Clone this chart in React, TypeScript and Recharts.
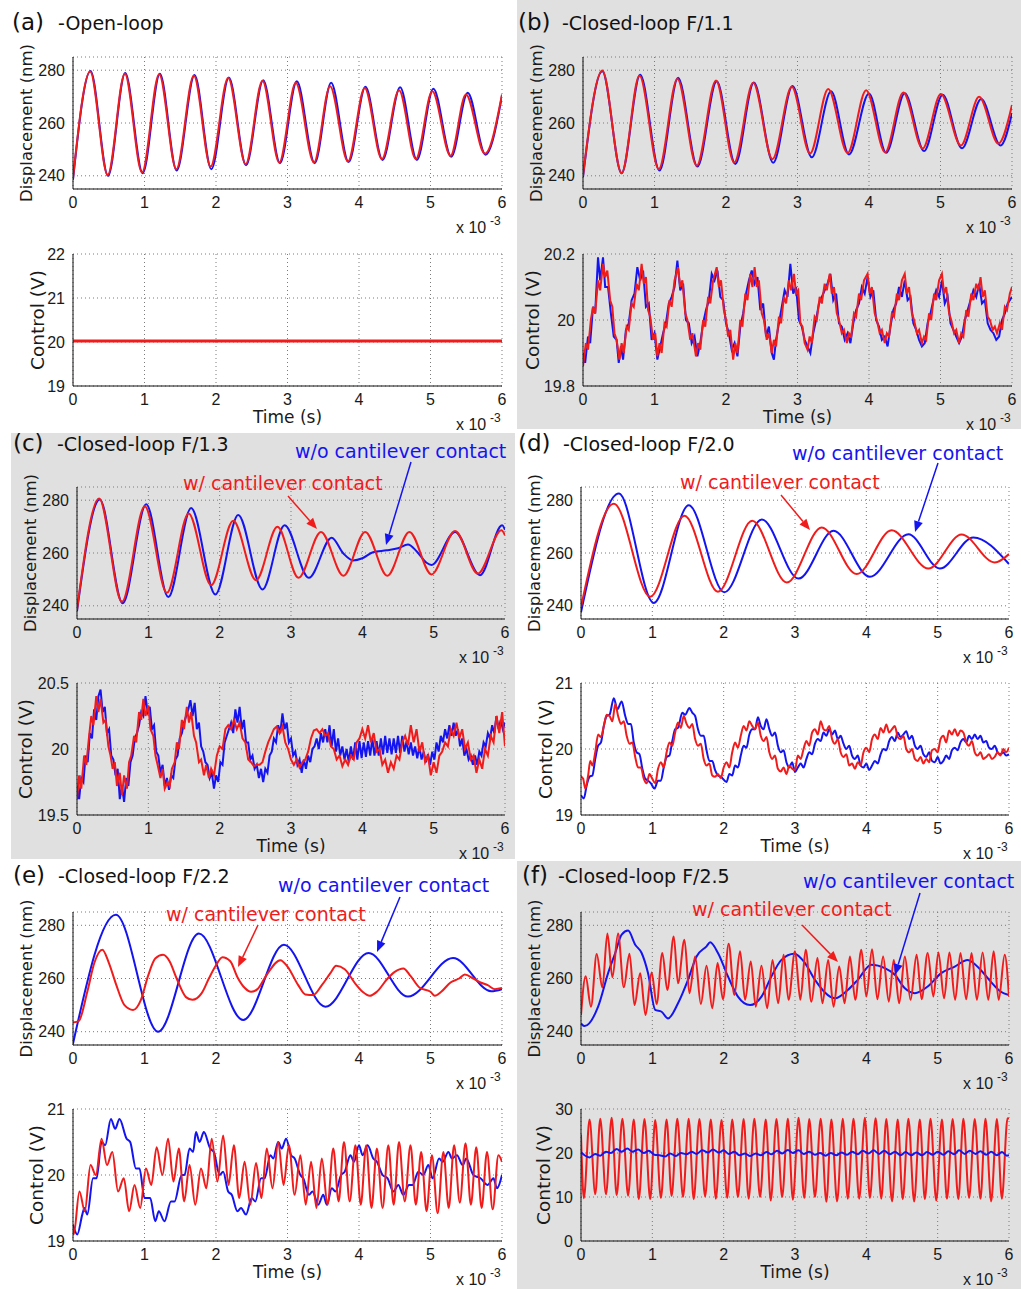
import React from 'react';
import { LineChart, Line, XAxis, YAxis, CartesianGrid } from 'recharts';

const FONT = "'DejaVu Sans', 'Liberation Sans', sans-serif";
const TICK_FONT = "'Liberation Sans', Arial, sans-serif";
const RED = '#f01c1c';
const BLUE = '#1414f0';
const GREY_BG = '#e0e0e0';

// ---------- data: [time (ms), value] ----------
const timeTicks = [0, 1, 2, 3, 4, 5, 6];
const dispTicks = [240, 260, 280];

const aDispBlue = [[0,238.5],[0.245,279.7],[0.49,240],[0.73,278.9],[0.975,241],[1.215,278.7],[1.45,242],[1.7,278.2],[1.935,242.5],[2.18,277.2],[2.42,244],[2.66,276.2],[2.895,244.8],[3.13,275.8],[3.38,244.8],[3.61,275.2],[3.855,245.2],[4.09,273.7],[4.33,246],[4.575,273.5],[4.81,246],[5.04,273],[5.29,247.2],[5.52,271.5],[5.77,248],[6,270.3]];
const aDispRed = [[0,239],[0.24,279.5],[0.485,240.3],[0.725,278.7],[0.965,241.3],[1.205,278.5],[1.445,242.5],[1.69,278],[1.925,243.5],[2.17,277.1],[2.415,244.4],[2.65,276],[2.885,245],[3.115,275.2],[3.37,245],[3.595,273.9],[3.845,245.4],[4.08,273.3],[4.32,246.3],[4.56,272.4],[4.795,246.3],[5.025,272],[5.28,247.6],[5.495,270.8],[5.76,248.4],[6,270.8]];
const aCtrlBlue = [[0,20.02],[6,20.02]];
const aCtrlRed = [[0,20.02],[6,20.02]];

const bDispBlue = [[0,239.5],[0.27,279.6],[0.54,241],[0.8,278.3],[1.07,242],[1.33,277.1],[1.6,243.5],[1.87,275.8],[2.13,244.5],[2.39,275.3],[2.66,244.9],[2.93,274],[3.2,247],[3.47,272],[3.72,248.1],[4.0,271.2],[4.24,248.7],[4.5,271.3],[4.77,249.4],[5.03,270.7],[5.3,250.4],[5.57,269.1],[5.84,251.5],[6,263.7]];
const bDispRed = [[0,240],[0.27,279.9],[0.54,241],[0.79,278],[1.06,242.5],[1.32,276.8],[1.59,243.8],[1.86,276.1],[2.115,245],[2.38,275.2],[2.65,246.3],[2.92,273.7],[3.175,248.4],[3.43,272.9],[3.7,248.6],[3.96,272.4],[4.225,248.9],[4.48,271.6],[4.75,250.3],[5.005,271],[5.285,251.5],[5.54,269.9],[5.81,252.2],[6,266.8]];
const bCtrlBlue = [[0,19.9],[0.03,19.87],[0.07,19.95],[0.1,19.93],[0.14,20.04],[0.17,20.02],[0.21,20.19],[0.24,20.12],[0.28,20.19],[0.31,20.1],[0.35,20.1],[0.39,20.02],[0.43,19.95],[0.47,19.94],[0.5,19.87],[0.53,19.92],[0.56,19.88],[0.6,19.97],[0.64,19.99],[0.68,20.06],[0.72,20.08],[0.76,20.16],[0.8,20.12],[0.84,20.15],[0.88,20.04],[0.92,20.05],[0.96,19.94],[1.0,19.96],[1.04,19.88],[1.08,19.92],[1.12,19.96],[1.16,19.99],[1.2,20.05],[1.24,20.07],[1.28,20.1],[1.32,20.18],[1.36,20.09],[1.4,20.11],[1.44,20.0],[1.48,19.99],[1.52,19.93],[1.56,19.95],[1.6,19.89],[1.64,19.93],[1.68,19.99],[1.72,20.03],[1.76,20.06],[1.8,20.14],[1.84,20.12],[1.88,20.15],[1.92,20.07],[1.96,20.06],[2.0,19.99],[2.04,19.96],[2.08,19.91],[2.12,19.93],[2.16,19.89],[2.2,19.98],[2.24,20.02],[2.28,20.08],[2.32,20.12],[2.36,20.15],[2.4,20.11],[2.44,20.13],[2.48,20.03],[2.52,20.05],[2.56,19.95],[2.6,19.98],[2.64,19.9],[2.67,19.88],[2.7,19.94],[2.74,19.99],[2.78,20.04],[2.82,20.09],[2.86,20.07],[2.9,20.17],[2.94,20.08],[2.98,20.1],[3.02,20.0],[3.06,19.98],[3.1,19.94],[3.14,19.92],[3.18,19.9],[3.22,19.96],[3.26,20.0],[3.3,20.05],[3.34,20.07],[3.38,20.09],[3.42,20.11],[3.46,20.14],[3.5,20.06],[3.54,20.08],[3.58,19.99],[3.62,19.98],[3.66,19.94],[3.7,19.96],[3.74,19.93],[3.78,19.99],[3.82,20.03],[3.86,20.05],[3.9,20.1],[3.94,20.08],[3.98,20.13],[4.02,20.07],[4.06,20.09],[4.1,20.0],[4.14,19.98],[4.18,19.94],[4.22,19.95],[4.26,19.92],[4.3,19.98],[4.34,20.03],[4.38,20.05],[4.42,20.1],[4.46,20.07],[4.5,20.12],[4.54,20.06],[4.58,20.07],[4.62,19.99],[4.66,19.97],[4.7,19.94],[4.74,19.92],[4.78,19.93],[4.82,19.99],[4.86,20.02],[4.9,20.06],[4.94,20.09],[4.98,20.07],[5.02,20.12],[5.06,20.05],[5.1,20.07],[5.14,19.99],[5.18,19.97],[5.22,19.95],[5.26,19.93],[5.3,19.95],[5.34,20.0],[5.38,20.03],[5.42,20.06],[5.46,20.09],[5.5,20.07],[5.54,20.11],[5.58,20.05],[5.62,20.06],[5.66,19.99],[5.7,19.97],[5.74,19.96],[5.78,19.94],[5.82,19.95],[5.86,20.0],[5.9,20.02],[5.94,20.05],[6,20.07]];
const bCtrlRed = [[0,19.86],[0.04,19.93],[0.07,19.91],[0.11,20.0],[0.14,20.04],[0.17,20.02],[0.21,20.12],[0.24,20.09],[0.28,20.17],[0.31,20.13],[0.34,20.15],[0.38,20.06],[0.41,20.04],[0.44,19.96],[0.47,19.94],[0.51,19.88],[0.54,19.93],[0.57,19.9],[0.61,19.98],[0.64,19.97],[0.68,20.05],[0.71,20.04],[0.75,20.11],[0.78,20.09],[0.82,20.17],[0.85,20.11],[0.88,20.13],[0.91,20.03],[0.94,20.01],[0.98,19.94],[1.01,19.96],[1.04,19.89],[1.07,19.93],[1.1,19.9],[1.14,19.99],[1.17,19.98],[1.21,20.06],[1.24,20.04],[1.28,20.12],[1.33,20.16],[1.36,20.1],[1.39,20.12],[1.43,20.02],[1.46,20.0],[1.5,19.94],[1.53,19.96],[1.58,19.89],[1.61,19.93],[1.64,19.91],[1.68,20.0],[1.71,19.98],[1.75,20.07],[1.78,20.05],[1.82,20.12],[1.87,20.16],[1.9,20.1],[1.93,20.12],[1.97,20.03],[2.0,20.0],[2.03,19.95],[2.06,19.97],[2.1,19.88],[2.13,19.93],[2.16,19.9],[2.2,20.0],[2.23,19.98],[2.27,20.08],[2.3,20.06],[2.34,20.14],[2.37,20.1],[2.4,20.16],[2.43,20.1],[2.46,20.12],[2.5,20.02],[2.53,20.0],[2.57,19.94],[2.6,19.96],[2.64,19.9],[2.67,19.94],[2.7,19.92],[2.74,20.01],[2.77,19.99],[2.81,20.07],[2.84,20.05],[2.88,20.12],[2.91,20.09],[2.95,20.14],[2.98,20.08],[3.01,20.09],[3.04,19.99],[3.07,19.98],[3.1,19.93],[3.14,19.91],[3.17,19.95],[3.2,19.93],[3.24,20.01],[3.27,20.0],[3.31,20.07],[3.34,20.05],[3.38,20.11],[3.41,20.09],[3.45,20.14],[3.48,20.08],[3.51,20.1],[3.55,20.02],[3.58,20.0],[3.62,19.96],[3.65,19.97],[3.69,19.93],[3.72,19.96],[3.75,19.95],[3.79,20.02],[3.82,20.01],[3.86,20.08],[3.89,20.06],[3.93,20.12],[3.98,20.14],[4.01,20.08],[4.04,20.1],[4.08,20.02],[4.11,20.0],[4.15,19.96],[4.18,19.97],[4.22,19.93],[4.25,19.96],[4.28,19.95],[4.32,20.02],[4.35,20.01],[4.39,20.08],[4.42,20.06],[4.46,20.12],[4.5,20.14],[4.53,20.08],[4.56,20.1],[4.6,20.02],[4.63,20.0],[4.67,19.96],[4.7,19.97],[4.74,19.93],[4.77,19.95],[4.8,19.94],[4.84,20.02],[4.87,20.0],[4.91,20.08],[4.94,20.06],[4.98,20.12],[5.02,20.14],[5.05,20.08],[5.08,20.1],[5.12,20.02],[5.15,20.0],[5.19,19.96],[5.22,19.97],[5.26,19.93],[5.29,19.96],[5.32,19.95],[5.36,20.03],[5.39,20.01],[5.43,20.08],[5.46,20.06],[5.5,20.11],[5.53,20.09],[5.56,20.13],[5.59,20.07],[5.62,20.09],[5.66,20.01],[5.69,20.0],[5.73,19.97],[5.76,19.98],[5.79,19.96],[5.83,19.99],[5.86,19.97],[5.9,20.04],[5.93,20.03],[5.97,20.08],[6,20.1]];

const cDispBlue = [[0,238],[0.32,280.3],[0.64,241],[0.97,278.5],[1.28,243.3],[1.6,277],[1.94,244.3],[2.26,274.4],[2.6,246.2],[2.91,270.5],[3.25,250.6],[3.57,265.8],[3.735,259.8],[3.87,257.2],[4.0,258],[4.15,260.3],[4.34,261],[4.5,261.8],[4.64,263.2],[4.76,260.7],[4.9,256.3],[4.97,255.5],[5.3,268],[5.65,251.6],[5.96,270.5],[6,268.8]];
const cDispRed = [[0,238.5],[0.31,280.6],[0.63,241.5],[0.95,277.7],[1.26,244.9],[1.565,275],[1.88,247.8],[2.19,272.2],[2.51,249.7],[2.81,269.9],[3.105,250.6],[3.42,268],[3.735,251.4],[4.04,268],[4.35,251.4],[4.66,268],[4.97,251.9],[5.3,268.3],[5.62,252.2],[5.95,268.6],[6,266.7]];
const cCtrlBlue = [[0,19.72],[0.03,19.62],[0.06,19.78],[0.09,19.75],[0.12,19.95],[0.15,19.9],[0.18,20.12],[0.21,20.08],[0.24,20.3],[0.27,20.22],[0.3,20.4],[0.33,20.45],[0.36,20.28],[0.39,20.32],[0.42,20.12],[0.45,20.15],[0.48,19.95],[0.51,19.92],[0.54,19.8],[0.57,19.85],[0.6,19.62],[0.63,19.72],[0.66,19.6],[0.69,19.78],[0.72,19.72],[0.75,19.9],[0.78,19.95],[0.81,20.08],[0.84,20.12],[0.87,20.18],[0.9,20.28],[0.93,20.25],[0.96,20.4],[0.99,20.28],[1.02,20.32],[1.05,20.15],[1.08,20.18],[1.11,19.98],[1.14,19.95],[1.17,19.82],[1.2,19.88],[1.23,19.72],[1.26,19.78],[1.29,19.69],[1.32,19.8],[1.35,19.78],[1.38,19.92],[1.41,19.95],[1.44,20.08],[1.47,20.12],[1.5,20.2],[1.53,20.25],[1.56,20.3],[1.59,20.37],[1.62,20.25],[1.65,20.35],[1.68,20.15],[1.71,20.2],[1.74,20.02],[1.77,19.98],[1.8,19.9],[1.83,19.88],[1.86,19.78],[1.89,19.82],[1.92,19.7],[1.95,19.8],[1.98,19.75],[2.01,19.9],[2.04,19.88],[2.07,20.05],[2.1,20.1],[2.13,20.15],[2.16,20.2],[2.19,20.12],[2.22,20.3],[2.25,20.2],[2.28,20.32],[2.31,20.15],[2.34,20.22],[2.37,20.05],[2.4,20.05],[2.43,19.92],[2.46,19.95],[2.49,19.85],[2.52,19.88],[2.55,19.78],[2.58,19.85],[2.61,19.75],[2.64,19.85],[2.67,19.82],[2.7,19.95],[2.73,19.98],[2.76,20.08],[2.79,20.05],[2.82,20.18],[2.85,20.12],[2.88,20.27],[2.91,20.15],[2.94,20.2],[2.97,20.05],[3.0,20.08],[3.03,19.95],[3.06,19.98],[3.09,19.88],[3.12,19.92],[3.15,19.82],[3.18,19.92],[3.21,19.85],[3.24,19.95],[3.27,19.9],[3.3,20.0],[3.33,20.02],[3.36,20.08],[3.39,20.0],[3.42,20.12],[3.45,20.05],[3.48,20.15],[3.51,20.05],[3.54,20.18],[3.57,20.02],[3.6,20.15],[3.63,19.98],[3.66,20.08],[3.69,19.95],[3.72,20.02],[3.75,19.92],[3.78,20.0],[3.81,19.9],[3.84,20.02],[3.87,19.92],[3.9,20.05],[3.93,19.92],[3.96,20.06],[3.99,19.93],[4.02,20.05],[4.05,19.94],[4.08,20.06],[4.11,19.95],[4.14,20.08],[4.17,19.95],[4.2,20.06],[4.23,19.95],[4.26,20.08],[4.29,19.96],[4.32,20.1],[4.35,19.97],[4.38,20.08],[4.41,19.96],[4.44,20.08],[4.47,19.97],[4.5,20.1],[4.53,19.97],[4.56,20.1],[4.59,19.98],[4.62,20.06],[4.65,19.96],[4.68,20.05],[4.71,19.95],[4.74,20.02],[4.77,19.93],[4.8,20.02],[4.83,19.92],[4.86,19.98],[4.89,19.9],[4.92,19.96],[4.95,19.88],[4.98,19.98],[5.01,19.92],[5.04,20.05],[5.07,19.98],[5.1,20.1],[5.13,20.05],[5.16,20.15],[5.19,20.08],[5.22,20.18],[5.25,20.1],[5.28,20.2],[5.31,20.1],[5.34,20.15],[5.37,20.02],[5.4,20.08],[5.43,19.95],[5.46,20.0],[5.49,19.92],[5.52,19.95],[5.55,19.88],[5.58,19.95],[5.61,19.88],[5.64,19.98],[5.67,19.95],[5.7,20.05],[5.73,20.02],[5.76,20.12],[5.79,20.08],[5.82,20.18],[5.85,20.12],[5.88,20.25],[5.91,20.15],[5.94,20.22],[5.97,20.15],[6,20.2]];
const cCtrlRed = [[0,19.62],[0.03,19.8],[0.06,19.7],[0.1,19.95],[0.13,19.88],[0.17,20.1],[0.2,20.25],[0.23,20.18],[0.27,20.4],[0.3,20.28],[0.33,20.38],[0.37,20.2],[0.4,20.22],[0.44,20.02],[0.47,19.95],[0.5,19.85],[0.53,19.9],[0.56,19.72],[0.6,19.82],[0.63,19.65],[0.66,19.8],[0.7,19.7],[0.73,19.9],[0.76,19.95],[0.8,20.1],[0.83,20.05],[0.87,20.28],[0.9,20.22],[0.93,20.38],[0.96,20.25],[1.0,20.33],[1.03,20.15],[1.07,20.1],[1.1,19.95],[1.13,19.88],[1.17,19.78],[1.2,19.85],[1.23,19.7],[1.27,19.75],[1.3,19.72],[1.33,19.85],[1.37,19.9],[1.4,20.05],[1.43,20.0],[1.47,20.22],[1.5,20.15],[1.54,20.32],[1.57,20.2],[1.6,20.28],[1.64,20.1],[1.67,20.05],[1.71,19.9],[1.74,19.92],[1.78,19.8],[1.81,19.88],[1.85,19.78],[1.88,19.85],[1.92,19.8],[1.96,19.95],[2.0,20.02],[2.04,20.0],[2.08,20.15],[2.12,20.18],[2.16,20.15],[2.2,20.22],[2.24,20.15],[2.28,20.2],[2.32,20.08],[2.36,20.05],[2.4,19.92],[2.44,19.9],[2.48,19.87],[2.52,19.88],[2.56,19.88],[2.6,19.9],[2.64,19.98],[2.68,20.05],[2.72,20.1],[2.76,20.15],[2.8,20.17],[2.84,20.12],[2.88,20.17],[2.92,20.05],[2.96,20.0],[3.0,19.92],[3.04,19.88],[3.08,19.92],[3.12,19.86],[3.16,19.9],[3.2,19.92],[3.24,19.98],[3.28,20.08],[3.32,20.14],[3.36,20.15],[3.4,20.12],[3.44,20.15],[3.48,20.1],[3.52,20.12],[3.56,20.02],[3.6,20.0],[3.64,19.92],[3.68,19.95],[3.72,19.87],[3.76,19.92],[3.8,19.88],[3.84,19.95],[3.88,19.92],[3.92,20.05],[3.96,20.08],[4.0,20.15],[4.04,20.08],[4.08,20.18],[4.12,20.05],[4.16,20.12],[4.2,19.98],[4.24,20.0],[4.28,19.88],[4.32,19.92],[4.36,19.82],[4.4,19.9],[4.44,19.85],[4.48,19.95],[4.52,19.92],[4.56,20.05],[4.6,20.1],[4.64,20.03],[4.68,20.18],[4.72,20.05],[4.76,20.15],[4.8,19.98],[4.84,20.05],[4.88,19.9],[4.92,19.95],[4.96,19.8],[5.0,19.9],[5.04,19.82],[5.08,19.95],[5.12,19.98],[5.16,20.05],[5.2,20.02],[5.24,20.15],[5.28,20.1],[5.32,20.2],[5.36,20.08],[5.4,20.15],[5.44,20.0],[5.48,20.05],[5.52,19.92],[5.56,19.95],[5.6,19.82],[5.64,19.92],[5.68,19.85],[5.72,20.0],[5.76,19.95],[5.8,20.1],[5.84,20.05],[5.88,20.25],[5.92,20.12],[5.96,20.28],[6,20.02]];

const dDispBlue = [[0,237.5],[0.53,282.5],[1.02,241.1],[1.51,278.1],[2.01,245.1],[2.535,272.7],[3.05,250.3],[3.54,268.4],[4.05,251],[4.59,267.1],[5.03,254.1],[5.5,265.9],[6,255.8]];
const dDispRed = [[0,239.5],[0.46,278.7],[0.97,243.4],[1.45,274.1],[1.92,245.3],[2.4,272.2],[2.885,248.8],[3.375,269.7],[3.865,252],[4.355,268.6],[4.87,254.1],[5.335,267],[5.8,256.4],[6,259.6]];
const dCtrlBlue = [[0,19.3],[0.04,19.25],[0.08,19.45],[0.12,19.58],[0.16,19.6],[0.2,19.85],[0.24,20.05],[0.28,20.1],[0.32,20.35],[0.36,20.5],[0.4,20.52],[0.46,20.77],[0.51,20.6],[0.57,20.72],[0.62,20.5],[0.66,20.38],[0.7,20.38],[0.74,20.1],[0.78,19.95],[0.82,19.92],[0.86,19.7],[0.9,19.55],[0.94,19.52],[0.98,19.48],[1.03,19.4],[1.08,19.52],[1.12,19.52],[1.16,19.72],[1.2,19.88],[1.24,19.9],[1.28,20.12],[1.32,20.3],[1.36,20.32],[1.42,20.55],[1.46,20.52],[1.52,20.62],[1.56,20.55],[1.6,20.5],[1.64,20.3],[1.68,20.2],[1.72,20.2],[1.76,19.98],[1.8,19.82],[1.84,19.82],[1.88,19.68],[1.92,19.6],[1.96,19.58],[2.04,19.5],[2.08,19.62],[2.12,19.6],[2.16,19.75],[2.2,19.72],[2.24,19.9],[2.28,20.05],[2.32,20.02],[2.36,20.22],[2.4,20.3],[2.44,20.3],[2.48,20.48],[2.52,20.35],[2.56,20.3],[2.6,20.45],[2.64,20.3],[2.68,20.2],[2.72,20.25],[2.76,20.05],[2.8,19.95],[2.84,19.98],[2.88,19.8],[2.92,19.72],[2.96,19.8],[3.0,19.65],[3.04,19.72],[3.08,19.78],[3.12,19.72],[3.16,19.85],[3.2,19.95],[3.24,19.92],[3.28,20.08],[3.32,20.15],[3.36,20.12],[3.4,20.25],[3.44,20.2],[3.48,20.3],[3.52,20.22],[3.56,20.28],[3.6,20.15],[3.64,20.2],[3.68,20.08],[3.72,20.0],[3.76,20.05],[3.8,19.9],[3.84,19.85],[3.88,19.9],[3.92,19.75],[3.96,19.72],[4.0,19.78],[4.04,19.68],[4.08,19.75],[4.12,19.82],[4.16,19.78],[4.2,19.92],[4.24,20.0],[4.28,19.98],[4.32,20.12],[4.36,20.18],[4.4,20.12],[4.44,20.25],[4.48,20.18],[4.52,20.22],[4.56,20.27],[4.6,20.15],[4.64,20.2],[4.68,20.05],[4.72,20.0],[4.76,20.05],[4.8,19.92],[4.84,19.88],[4.88,19.95],[4.92,19.82],[4.96,19.8],[5.0,19.88],[5.04,19.78],[5.08,19.82],[5.12,19.9],[5.16,19.85],[5.2,19.98],[5.24,20.02],[5.28,19.98],[5.32,20.1],[5.36,20.15],[5.4,20.1],[5.44,20.2],[5.48,20.15],[5.52,20.22],[5.56,20.15],[5.6,20.2],[5.64,20.1],[5.68,20.12],[5.72,20.02],[5.76,20.0],[5.8,20.05],[5.84,19.95],[5.88,19.92],[5.92,19.95],[5.96,19.9],[6,19.92]];
const dCtrlRed = [[0,19.58],[0.03,19.55],[0.06,19.4],[0.1,19.6],[0.13,19.82],[0.16,19.75],[0.2,19.95],[0.24,20.22],[0.28,20.18],[0.32,20.35],[0.36,20.52],[0.4,20.5],[0.44,20.42],[0.48,20.68],[0.52,20.5],[0.56,20.38],[0.6,20.42],[0.64,20.2],[0.68,20.08],[0.72,20.1],[0.76,19.88],[0.8,19.72],[0.84,19.72],[0.88,19.55],[0.92,19.48],[0.96,19.62],[1.0,19.55],[1.04,19.48],[1.08,19.7],[1.12,19.8],[1.16,19.72],[1.2,19.95],[1.24,20.1],[1.28,20.05],[1.32,20.25],[1.36,20.4],[1.4,20.32],[1.44,20.5],[1.48,20.38],[1.52,20.32],[1.56,20.38],[1.6,20.15],[1.64,20.05],[1.68,20.08],[1.72,19.85],[1.76,19.75],[1.8,19.78],[1.84,19.6],[1.88,19.58],[1.92,19.62],[1.96,19.56],[2.0,19.72],[2.04,19.8],[2.08,19.72],[2.12,19.95],[2.16,20.1],[2.2,20.02],[2.24,20.2],[2.28,20.35],[2.32,20.28],[2.36,20.42],[2.4,20.35],[2.44,20.3],[2.48,20.4],[2.52,20.2],[2.56,20.12],[2.6,20.18],[2.64,19.95],[2.68,19.85],[2.72,19.9],[2.76,19.7],[2.8,19.66],[2.84,19.72],[2.88,19.62],[2.92,19.75],[2.96,19.7],[3.0,19.68],[3.04,19.9],[3.08,19.85],[3.12,20.0],[3.16,20.12],[3.2,20.05],[3.24,20.25],[3.28,20.3],[3.32,20.22],[3.36,20.42],[3.4,20.3],[3.44,20.28],[3.48,20.35],[3.52,20.15],[3.56,20.08],[3.6,20.15],[3.64,19.95],[3.68,19.88],[3.72,19.92],[3.76,19.75],[3.8,19.78],[3.84,19.7],[3.88,19.8],[3.92,19.75],[3.96,19.95],[4.0,20.02],[4.04,19.95],[4.08,20.15],[4.12,20.22],[4.16,20.15],[4.2,20.32],[4.24,20.25],[4.28,20.37],[4.32,20.25],[4.36,20.3],[4.4,20.35],[4.44,20.18],[4.48,20.15],[4.52,20.2],[4.56,20.0],[4.6,19.95],[4.64,20.0],[4.68,19.85],[4.72,19.82],[4.76,19.88],[4.8,19.78],[4.84,19.85],[4.88,19.8],[4.92,19.98],[4.96,20.0],[5.0,19.95],[5.04,20.15],[5.08,20.2],[5.12,20.1],[5.16,20.28],[5.2,20.22],[5.24,20.3],[5.28,20.2],[5.32,20.28],[5.36,20.25],[5.4,20.1],[5.44,20.05],[5.48,20.12],[5.52,19.95],[5.56,19.9],[5.6,19.95],[5.64,19.85],[5.68,19.88],[5.72,19.92],[5.76,19.85],[5.8,19.88],[5.84,19.95],[5.88,19.9],[5.92,20.0],[5.96,19.95],[6,20.02]];

const eDispBlue = [[0,235.5],[0.6,284],[1.19,240],[1.76,276.9],[2.38,244.4],[2.95,272.7],[3.53,249.4],[4.135,269.6],[4.685,253.2],[5.315,267.7],[5.85,255.2],[6,256]];
const eDispRed = [[0,243.5],[0.08,244],[0.2,255],[0.3,266],[0.41,270.8],[0.5,266],[0.6,258],[0.72,250],[0.84,248.2],[0.95,252],[1.05,261],[1.15,267.5],[1.26,268.9],[1.35,266.5],[1.45,260],[1.58,253],[1.67,252],[1.8,254.5],[1.9,260],[2.0,265],[2.09,268],[2.2,266.5],[2.3,260.5],[2.4,256.5],[2.49,255],[2.58,256],[2.7,261],[2.9,266.9],[3.0,264.5],[3.15,257.5],[3.25,254],[3.36,253.8],[3.48,257.5],[3.6,262],[3.68,264.8],[3.8,263.5],[3.95,258],[4.05,255],[4.15,253.5],[4.25,255],[4.4,260],[4.5,262.5],[4.62,263.8],[4.72,261],[4.85,256.5],[5.0,255],[5.06,253.5],[5.15,255],[5.28,258.5],[5.4,260],[5.48,261.5],[5.6,260],[5.7,258.5],[5.8,257.5],[5.9,256],[6,256.4]];
const eCtrlBlue = [[0,19.25],[0.06,19.1],[0.13,19.4],[0.16,19.5],[0.2,19.4],[0.28,19.95],[0.33,19.95],[0.4,20.5],[0.45,20.45],[0.53,20.85],[0.59,20.7],[0.65,20.85],[0.75,20.55],[0.8,20.5],[0.88,20.1],[0.93,20.1],[1.0,19.65],[1.08,19.65],[1.15,19.3],[1.2,19.45],[1.28,19.3],[1.37,19.6],[1.42,19.6],[1.52,20.0],[1.56,20.0],[1.63,20.4],[1.68,20.35],[1.72,20.65],[1.77,20.5],[1.83,20.65],[1.92,20.4],[1.97,20.35],[2.05,20.0],[2.1,20.05],[2.17,19.75],[2.22,19.7],[2.3,19.45],[2.35,19.5],[2.42,19.4],[2.5,19.65],[2.55,19.6],[2.63,19.95],[2.68,19.95],[2.76,20.3],[2.8,20.25],[2.87,20.5],[2.92,20.4],[2.98,20.55],[3.05,20.3],[3.1,20.25],[3.18,20.0],[3.22,19.95],[3.3,19.7],[3.35,19.75],[3.43,19.55],[3.5,19.7],[3.55,19.55],[3.62,19.8],[3.67,19.75],[3.75,20.0],[3.8,20.05],[3.88,20.3],[3.93,20.2],[4.0,20.45],[4.05,20.3],[4.12,20.45],[4.2,20.25],[4.25,20.2],[4.33,20.0],[4.4,19.95],[4.48,19.75],[4.55,19.85],[4.62,19.7],[4.7,19.85],[4.75,19.85],[4.83,20.05],[4.9,20.0],[4.97,20.15],[5.03,19.95],[5.12,20.25],[5.17,20.2],[5.25,20.35],[5.3,20.25],[5.37,20.3],[5.45,20.15],[5.5,20.25],[5.6,20.0],[5.7,19.95],[5.8,19.85],[5.88,19.95],[5.93,19.8],[6,20.0]];
const eCtrlRed = [[0,19.2],[0.01,19.1],[0.09,19.75],[0.165,19.45],[0.245,20.15],[0.32,20.0],[0.4,20.55],[0.475,20.15],[0.55,20.35],[0.63,19.75],[0.71,19.95],[0.785,19.45],[0.86,19.85],[0.94,19.5],[1.02,20.1],[1.095,19.85],[1.17,20.42],[1.25,20.0],[1.33,20.55],[1.405,19.9],[1.48,20.4],[1.555,19.6],[1.63,20.15],[1.71,19.55],[1.79,20.1],[1.865,19.8],[1.94,20.55],[2.02,19.9],[2.1,20.6],[2.175,19.85],[2.25,20.45],[2.325,19.65],[2.4,20.2],[2.48,19.55],[2.56,20.18],[2.635,19.65],[2.71,20.4],[2.79,19.8],[2.87,20.5],[2.945,19.85],[3.02,20.45],[3.1,19.7],[3.18,20.3],[3.255,19.55],[3.33,20.2],[3.405,19.5],[3.48,20.25],[3.56,19.55],[3.64,20.4],[3.715,19.6],[3.79,20.5],[3.87,19.6],[3.95,20.45],[4.025,19.55],[4.1,20.45],[4.175,19.5],[4.25,20.4],[4.33,19.5],[4.41,20.45],[4.485,19.55],[4.56,20.5],[4.64,19.6],[4.72,20.45],[4.795,19.55],[4.87,20.35],[4.945,19.45],[5.02,20.3],[5.1,19.42],[5.18,20.35],[5.255,19.5],[5.33,20.45],[5.41,19.58],[5.49,20.48],[5.565,19.55],[5.64,20.42],[5.715,19.5],[5.79,20.35],[5.87,19.48],[5.95,20.3],[6,20.2]];

const fDispBlue = [[0,243.1],[0.05,242.1],[0.24,249.4],[0.38,262],[0.48,269.6],[0.57,276.5],[0.66,278],[0.76,272.7],[0.85,269.6],[0.94,262],[1.04,248.2],[1.13,247.5],[1.22,245],[1.36,250.7],[1.5,259.5],[1.62,268.3],[1.76,272.1],[1.81,273.6],[1.92,269.6],[2.06,260.8],[2.2,253.2],[2.37,250],[2.53,253.2],[2.67,260.8],[2.81,267],[2.99,269.3],[3.14,265.8],[3.28,259.5],[3.56,252.6],[3.74,255.7],[3.88,259.5],[4.07,265.2],[4.26,263.9],[4.4,261.4],[4.54,256.3],[4.68,254.5],[4.86,257],[5.05,262],[5.24,264.5],[5.42,267],[5.6,263.3],[5.74,258.9],[5.88,255.1],[6,253.8]];
const fDispRed = [[0,246.3],[0.065,260.8],[0.14,249.4],[0.22,269.2],[0.3,256.6],[0.37,276.9],[0.44,260.5],[0.52,276.9],[0.6,256.7],[0.68,269.3],[0.75,250],[0.83,262],[0.905,246.3],[0.99,262.3],[1.06,250.4],[1.14,269.6],[1.21,255.7],[1.3,275.8],[1.36,258.2],[1.45,274.6],[1.52,254.5],[1.6,268.3],[1.68,250.4],[1.76,264.8],[1.84,248.8],[1.915,265.8],[1.99,252.2],[2.07,273.1],[2.15,253.8],[2.23,270.2],[2.3,252],[2.38,266.4],[2.45,249.4],[2.53,264.8],[2.61,248.8],[2.685,267],[2.765,250.7],[2.84,268.9],[2.91,252],[3.0,270.2],[3.075,252],[3.15,270.8],[3.23,251.3],[3.315,267.7],[3.385,250.7],[3.465,267],[3.54,249.4],[3.62,264.5],[3.695,250.7],[3.77,268.3],[3.845,252],[3.93,270.8],[4.0,253.2],[4.08,271],[4.155,252.2],[4.235,268.3],[4.315,251.3],[4.385,267],[4.46,250.7],[4.54,268.3],[4.62,252],[4.705,268.9],[4.775,252.2],[4.86,269.6],[4.94,253.2],[5.01,269.8],[5.09,252.6],[5.165,269.8],[5.245,252],[5.32,269.6],[5.4,252.2],[5.475,269.6],[5.55,252],[5.63,269.8],[5.71,252],[5.785,270.2],[5.855,252],[5.94,268.9],[6,253.2]];
const fCtrlBlue = [[0,20.2],[0.05,19.5],[0.12,19.0],[0.2,19.8],[0.27,19.4],[0.35,20.3],[0.42,20.0],[0.5,20.9],[0.57,20.3],[0.65,21.0],[0.72,20.3],[0.8,20.8],[0.88,20.0],[0.95,20.5],[1.03,19.6],[1.1,19.5],[1.18,19.2],[1.25,19.9],[1.33,19.3],[1.4,20.0],[1.48,19.7],[1.55,20.3],[1.62,19.8],[1.7,20.6],[1.78,20.1],[1.85,20.8],[1.93,20.1],[2.0,20.6],[2.07,19.8],[2.15,20.3],[2.22,19.5],[2.3,19.9],[2.37,19.3],[2.45,19.9],[2.52,19.5],[2.6,20.2],[2.67,19.7],[2.75,20.5],[2.82,19.9],[2.9,20.7],[2.97,20.0],[3.05,20.6],[3.12,19.8],[3.2,20.3],[3.28,19.6],[3.35,20.0],[3.43,19.4],[3.5,20.0],[3.58,19.5],[3.65,20.1],[3.73,19.6],[3.8,20.3],[3.88,19.7],[3.95,20.5],[4.03,19.9],[4.1,20.6],[4.18,19.8],[4.25,20.5],[4.33,19.7],[4.4,20.3],[4.48,19.5],[4.55,20.2],[4.63,19.5],[4.7,20.1],[4.78,19.5],[4.85,20.2],[4.93,19.6],[5.0,20.3],[5.08,19.6],[5.15,20.4],[5.23,19.7],[5.3,20.6],[5.38,19.8],[5.45,20.5],[5.53,19.8],[5.6,20.4],[5.68,19.6],[5.75,20.3],[5.83,19.5],[5.9,20.2],[5.97,19.4],[6,19.5]];
const fCtrlRed = [[0,24.2],[0.04,9.7],[0.12,27.6],[0.2,10.6],[0.27,27.8],[0.35,10.6],[0.43,28],[0.5,10.4],[0.58,27.8],[0.66,10.3],[0.74,27.6],[0.81,9.5],[0.89,27.7],[0.97,9.5],[1.04,27.5],[1.12,9.8],[1.2,27.6],[1.27,10.2],[1.35,27.8],[1.43,10.0],[1.51,27.8],[1.58,9.5],[1.66,27.7],[1.74,10.1],[1.82,27.6],[1.89,9.6],[1.97,27.5],[2.05,9.8],[2.12,27.6],[2.2,10.0],[2.28,27.7],[2.35,9.6],[2.43,27.8],[2.51,10.0],[2.59,27.6],[2.66,9.2],[2.74,27.7],[2.82,10.0],[2.9,27.8],[2.97,9.4],[3.05,28],[3.13,9.8],[3.2,27.7],[3.28,10.0],[3.36,27.8],[3.44,8.9],[3.51,27.6],[3.59,9.0],[3.67,27.8],[3.74,9.6],[3.82,27.8],[3.9,9.6],[3.98,28],[4.05,9.8],[4.13,27.9],[4.21,9.6],[4.28,27.7],[4.36,9.0],[4.44,27.6],[4.51,9.5],[4.59,27.8],[4.67,9.0],[4.75,27.6],[4.82,9.5],[4.9,27.8],[4.98,9.2],[5.06,27.6],[5.13,9.6],[5.21,27.7],[5.29,9.5],[5.36,27.8],[5.44,9.8],[5.52,27.7],[5.6,9.6],[5.67,27.8],[5.75,9.0],[5.83,27.7],[5.9,9.6],[5.98,27.9],[6,27.7]];

// ---------- layout ----------
const pts = (a) => a.map(([t, v]) => ({ t, v }));

const DISP_LABEL = 'Displacement (nm)';
const CTRL_LABEL = 'Control (V)';

const subplots = [
  { id: 'aD', x1: 73, y1: 57, x2: 502, y2: 189, domain: [235, 285], ticks: dispTicks, label: DISP_LABEL, lo: 47, time: false,
    series: [{ d: aDispBlue, c: BLUE }, { d: aDispRed, c: RED }] },
  { id: 'aC', x1: 73, y1: 254, x2: 502, y2: 386, domain: [19, 22], ticks: [19, 20, 21, 22], label: CTRL_LABEL, lo: 36, time: true,
    series: [{ d: aCtrlBlue, c: BLUE }, { d: aCtrlRed, c: RED, w: 3 }] },
  { id: 'bD', x1: 583, y1: 57, x2: 1012, y2: 189, domain: [235, 285], ticks: dispTicks, label: DISP_LABEL, lo: 47, time: false,
    series: [{ d: bDispBlue, c: BLUE }, { d: bDispRed, c: RED }] },
  { id: 'bC', x1: 583, y1: 254, x2: 1012, y2: 386, domain: [19.8, 20.2], ticks: [19.8, 20, 20.2], label: CTRL_LABEL, lo: 51, time: true,
    series: [{ d: bCtrlBlue, c: BLUE, lin: true }, { d: bCtrlRed, c: RED, lin: true }] },
  { id: 'cD', x1: 77, y1: 487, x2: 505, y2: 619, domain: [235, 285], ticks: dispTicks, label: DISP_LABEL, lo: 47, time: false,
    series: [{ d: cDispBlue, c: BLUE }, { d: cDispRed, c: RED }] },
  { id: 'cC', x1: 77, y1: 683, x2: 505, y2: 815, domain: [19.5, 20.5], ticks: [19.5, 20, 20.5], label: CTRL_LABEL, lo: 52, time: true,
    series: [{ d: cCtrlBlue, c: BLUE, lin: true }, { d: cCtrlRed, c: RED, lin: true }] },
  { id: 'dD', x1: 581, y1: 487, x2: 1009, y2: 619, domain: [235, 285], ticks: dispTicks, label: DISP_LABEL, lo: 47, time: false,
    series: [{ d: dDispBlue, c: BLUE }, { d: dDispRed, c: RED }] },
  { id: 'dC', x1: 581, y1: 683, x2: 1009, y2: 815, domain: [19, 21], ticks: [19, 20, 21], label: CTRL_LABEL, lo: 36, time: true,
    series: [{ d: dCtrlBlue, c: BLUE }, { d: dCtrlRed, c: RED }] },
  { id: 'eD', x1: 73, y1: 912, x2: 502, y2: 1045, domain: [235, 285], ticks: dispTicks, label: DISP_LABEL, lo: 47, time: false,
    series: [{ d: eDispBlue, c: BLUE }, { d: eDispRed, c: RED }] },
  { id: 'eC', x1: 73, y1: 1109, x2: 502, y2: 1241, domain: [19, 21], ticks: [19, 20, 21], label: CTRL_LABEL, lo: 37, time: true,
    series: [{ d: eCtrlBlue, c: BLUE }, { d: eCtrlRed, c: RED }] },
  { id: 'fD', x1: 581, y1: 912, x2: 1009, y2: 1045, domain: [235, 285], ticks: dispTicks, label: DISP_LABEL, lo: 47, time: false,
    series: [{ d: fDispBlue, c: BLUE }, { d: fDispRed, c: RED }] },
  { id: 'fC', x1: 581, y1: 1109, x2: 1009, y2: 1241, domain: [0, 30], ticks: [0, 10, 20, 30], label: CTRL_LABEL, lo: 38, time: true,
    series: [{ d: fCtrlRed, c: RED }, { d: fCtrlBlue, c: BLUE }] },
];

const titles = [
  { x: 12, y: 30, letter: '(a)', tx: 58, text: '-Open-loop' },
  { x: 518, y: 30, letter: '(b)', tx: 562, text: '-Closed-loop F/1.1' },
  { x: 13, y: 451, letter: '(c)', tx: 57, text: '-Closed-loop F/1.3' },
  { x: 518, y: 451, letter: '(d)', tx: 563, text: '-Closed-loop F/2.0' },
  { x: 13, y: 883, letter: '(e)', tx: 58, text: '-Closed-loop F/2.2' },
  { x: 522, y: 883, letter: '(f)', tx: 558, text: '-Closed-loop F/2.5' },
];

const notes = [
  { bx: 295, by: 458, rx: 183, ry: 490, ra: [288, 496, 317, 529], ba: [411, 462, 386, 545] },
  { bx: 792, by: 460, rx: 680, ry: 489, ra: [781, 495, 810, 530], ba: [938, 463, 915, 532] },
  { bx: 278, by: 892, rx: 166, ry: 921, ra: [258, 925, 238, 967], ba: [400, 897, 377, 952] },
  { bx: 803, by: 888, rx: 692, ry: 916, ra: [802, 925, 838, 962], ba: [920, 893, 895, 975] },
];

const greyPanels = [
  { left: 517, top: 0, width: 504, height: 429 },
  { left: 11, top: 433, width: 504, height: 426 },
  { left: 517, top: 861, width: 504, height: 428 },
];

const PAD_L = 60, PAD_T = 14, PAD_R = 10, PAD_B = 30;

function Sub({ p }) {
  const w = p.x2 - p.x1 + PAD_L + PAD_R;
  const h = p.y2 - p.y1 + PAD_T + PAD_B;
  const tickStyle = { fill: '#1a1a1a', fontSize: 16, fontFamily: TICK_FONT };
  return (
    <div style={{ position: 'absolute', left: p.x1 - PAD_L, top: p.y1 - PAD_T, zIndex: 1 }}>
      <LineChart width={w} height={h} margin={{ top: PAD_T, right: PAD_R, bottom: 0, left: 0 }}>
        <CartesianGrid stroke="#7a7a7a" strokeDasharray="1 3" strokeWidth={1} />
        <XAxis type="number" dataKey="t" domain={[0, 6]} ticks={timeTicks} interval={0} allowDataOverflow
          height={PAD_B} axisLine={{ stroke: '#111', strokeWidth: 1 }} tickLine={false} tick={tickStyle} />
        <YAxis type="number" domain={p.domain} ticks={p.ticks} interval={0} allowDataOverflow
          width={PAD_L} axisLine={{ stroke: '#111', strokeWidth: 1 }} tickLine={false} tick={tickStyle} />
        {p.series.map((s, i) => (
          <Line key={i} data={pts(s.d)} dataKey="v" type={s.lin ? 'linear' : 'monotone'} stroke={s.c}
            strokeWidth={s.w || 2} dot={false} activeDot={false} isAnimationActive={false} />
        ))}
      </LineChart>
    </div>
  );
}

function Arrow({ a, color }) {
  const [x1, y1, x2, y2] = a;
  const ang = Math.atan2(y2 - y1, x2 - x1);
  const L = 11, W = 4.5;
  const bx = x2 - L * Math.cos(ang), by = y2 - L * Math.sin(ang);
  const px = -Math.sin(ang) * W, py = Math.cos(ang) * W;
  return (
    <g>
      <line x1={x1} y1={y1} x2={bx} y2={by} stroke={color} strokeWidth={1.5} />
      <polygon points={`${x2},${y2} ${bx + px},${by + py} ${bx - px},${by - py}`} fill={color} />
    </g>
  );
}

export default function App() {
  return (
    <div style={{ position: 'absolute', left: 0, top: 0, width: 1021, height: 1289, background: '#fff', overflow: 'hidden' }}>
      {greyPanels.map((g, i) => (
        <div key={i} style={{ position: 'absolute', left: g.left, top: g.top, width: g.width, height: g.height, background: GREY_BG, zIndex: 0 }} />
      ))}
      {subplots.map((p) => <Sub key={p.id} p={p} />)}
      <svg width={1021} height={1289} style={{ position: 'absolute', left: 0, top: 0, zIndex: 2, pointerEvents: 'none' }}
        fontFamily={FONT}>
        {titles.map((t, i) => (
          <g key={i} fill="#111">
            <text x={t.x} y={t.y} fontSize={23}>{t.letter}</text>
            <text x={t.tx} y={t.y} fontSize={19}>{t.text}</text>
          </g>
        ))}
        {subplots.map((p) => {
          const cy = (p.y1 + p.y2) / 2;
          const cx = p.x1 - p.lo;
          return (
            <g key={p.id} fill="#1a1a1a">
              <text x={cx} y={cy} fontSize={p.label === CTRL_LABEL ? 18.5 : 16.5} textAnchor="middle" dominantBaseline="central"
                transform={`rotate(-90 ${cx} ${cy})`}>{p.label}</text>
              <text x={p.x2 - 46} y={p.y2 + 44} fontSize={16} fontFamily={TICK_FONT}>x 10</text>
              <text x={p.x2 - 12} y={p.y2 + 36} fontSize={12} fontFamily={TICK_FONT}>-3</text>
              {p.time && (
                <text x={(p.x1 + p.x2) / 2} y={p.y2 + 37} fontSize={17} textAnchor="middle">Time (s)</text>
              )}
            </g>
          );
        })}
        {notes.map((n, i) => (
          <g key={i}>
            <text x={n.bx} y={n.by} fontSize={19} fill={BLUE}>w/o cantilever contact</text>
            <text x={n.rx} y={n.ry} fontSize={19} fill={RED}>w/ cantilever contact</text>
            <Arrow a={n.ra} color={RED} />
            <Arrow a={n.ba} color={BLUE} />
          </g>
        ))}
      </svg>
    </div>
  );
}
